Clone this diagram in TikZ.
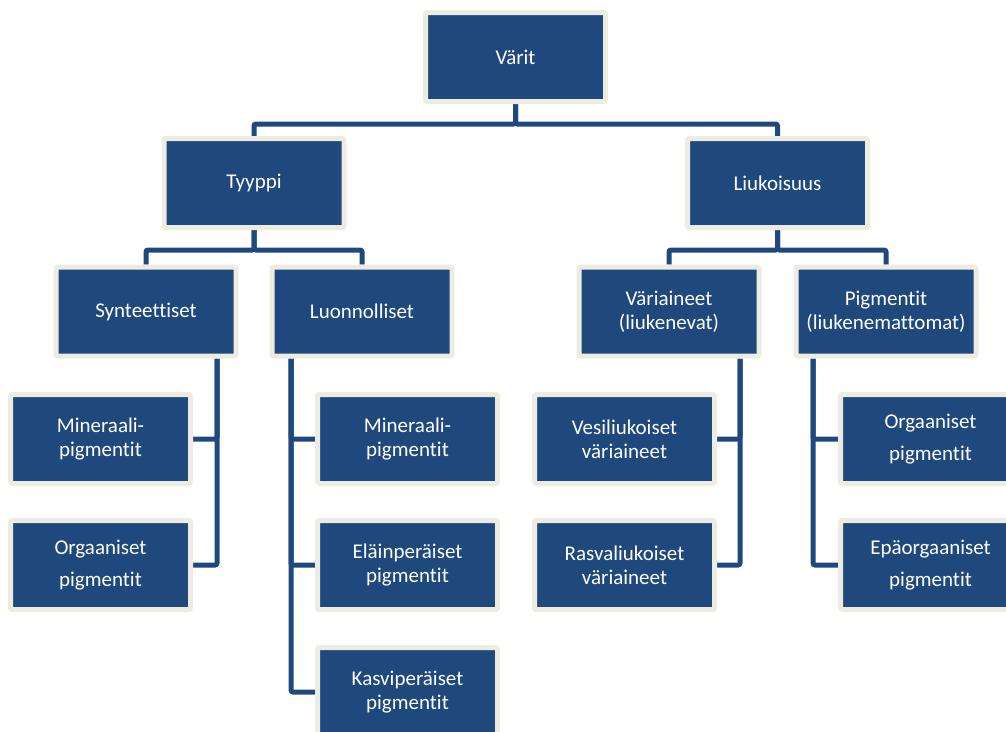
\documentclass[tikz,border=0pt]{standalone}
\usepackage{fontspec}
\setmainfont{Carlito}[Ligatures=NoCommon]
\usepackage{tikz}
\usetikzlibrary{positioning, backgrounds}
\usepackage{xcolor}
\definecolor{boxblue}{RGB}{31,73,125}
\definecolor{boxrim}{RGB}{238,236,225}

\begin{document}
\begin{tikzpicture}[x=1pt, y=-1pt,
        box/.style={fill=boxblue, draw=boxrim, line width=5pt, rounded corners=2pt,
            minimum width=180pt, minimum height=89pt, inner sep=2pt,
            align=center, text=white, font=\fontsize{21}{24}\selectfont},
        conn/.style={draw=boxblue, line width=5pt, rounded corners=2pt}]
    \useasboundingbox (0,0) rectangle (1006,731);

    % --- Ylin taso ---
    \node[box] (varit) at (515.5,57) {Värit};

    % --- Toinen taso ---
    \node[box] (tyyppi) at (254,183) {Tyyppi};
    \node[box] (liuk)   at (777.5,183) {Liukoisuus};

    % --- Kolmas taso ---
    \node[box] (synt)  at (146,311.5) {Synteettiset};
    \node[box] (luonn) at (362,311.5) {Luonnolliset};
    \node[box] (vari)  at (669,311.5) {Väriaineet\\(liukenevat)};
    \node[box] (pigm)  at (886,311.5) {Pigmentit\\(liukenemattomat)};

    % --- Synteettiset: lapset vasemmalla ---
    \node[box] (synmin) at (100.5,439) {Mineraali-\\pigmentit};
    \node[box] (synorg) at (100.5,565) {Orgaaniset\\[8pt]pigmentit};

    % --- Luonnolliset: lapset oikealla ---
    \node[box] (lumin)  at (407.5,439) {Mineraali-\\pigmentit};
    \node[box] (luelai) at (407.5,565) {Eläinperäiset\\pigmentit};
    \node[box] (lukasv) at (407.5,692) {Kasviperäiset\\pigmentit};

    % --- Väriaineet ---
    \node[box] (vesi)  at (624.5,439) {Vesiliukoiset\\väriaineet};
    \node[box] (rasva) at (624.5,565) {Rasvaliukoiset\\väriaineet};

    % --- Pigmentit ---
    \node[box] (piorg) at (930.5,439) {Orgaaniset\\[8pt]pigmentit};
    \node[box] (piepa) at (930.5,565) {Epäorgaaniset\\[8pt]pigmentit};

    % --- Yhdysviivat (taustalla) ---
    \begin{scope}[on background layer]
        \draw[conn] (varit.south) -- ++(0,20) -| (tyyppi.north);
        \draw[conn] (varit.south) -- ++(0,20) -| (liuk.north);

        \draw[conn] (tyyppi.south) -- ++(0,20) -| (synt.north);
        \draw[conn] (tyyppi.south) -- ++(0,20) -| (luonn.north);
        \draw[conn] (liuk.south) -- ++(0,20) -| (vari.north);
        \draw[conn] (liuk.south) -- ++(0,20) -| (pigm.north);

        \draw[conn] ([xshift=71pt]synt.south) |- (synmin.east);
        \draw[conn] ([xshift=71pt]synt.south) |- (synorg.east);

        \draw[conn] ([xshift=-71pt]luonn.south) |- (lumin.west);
        \draw[conn] ([xshift=-71pt]luonn.south) |- (luelai.west);
        \draw[conn] ([xshift=-71pt]luonn.south) |- (lukasv.west);

        \draw[conn] ([xshift=71pt]vari.south) |- (vesi.east);
        \draw[conn] ([xshift=71pt]vari.south) |- (rasva.east);

        \draw[conn] ([xshift=-73pt]pigm.south) |- (piorg.west);
        \draw[conn] ([xshift=-73pt]pigm.south) |- (piepa.west);
    \end{scope}
\end{tikzpicture}
\end{document}
